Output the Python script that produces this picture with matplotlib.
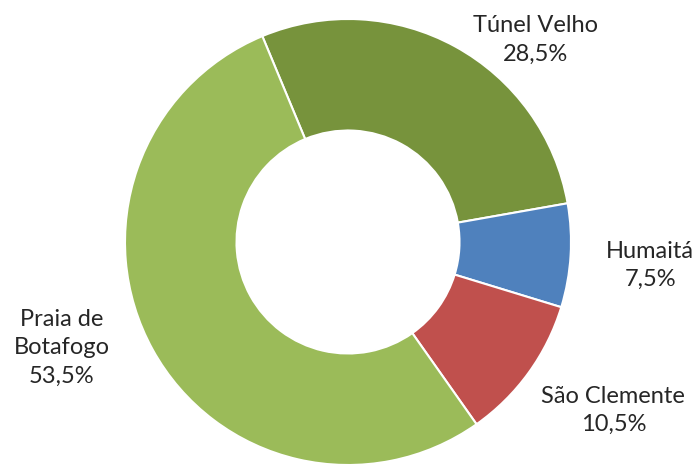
import matplotlib
matplotlib.use('Agg')
import matplotlib.pyplot as plt

# shares of each district, clockwise from Túnel Velho
labels = ['Túnel Velho', 'Humaitá', 'São Clemente', 'Praia de\nBotafogo']
shares = [28.5, 7.5, 10.5, 53.5]
colors = ['#77933C', '#4F81BD', '#C0504D', '#9BBB59']

# label block centres in units of the outer radius (Excel "best fit" placement)
label_pos = [(0.84, 0.905), (1.355, -0.105), (1.19, -0.755), (-1.285, -0.475)]

W, H = 700, 468
cx, cy, R = 348, 242, 223  # pixel centre / radius of the ring

fig = plt.figure(figsize=(W / 100, H / 100), dpi=100, facecolor='white')
ax = fig.add_axes([0, 0, 1, 1])

wedges, _ = ax.pie(shares, colors=colors, startangle=112.6, counterclock=False,
                   radius=1.0, frame=True,
                   wedgeprops=dict(width=0.5, edgecolor='white', linewidth=1.5))
ax.set_xlim(-cx / R, (W - cx) / R)
ax.set_ylim(-(H - cy) / R, cy / R)
ax.set_aspect('auto')
ax.axis('off')

for lab, val, (x, y) in zip(labels, shares, label_pos):
    txt = f'{lab}\n{val:.1f}%'.replace('.', ',')
    ax.text(x, y, txt, ha='center', va='center', fontsize=17,
            family='Lato', color='#262626', linespacing=1.45)

fig.savefig('out.png', dpi=100, facecolor='white')
